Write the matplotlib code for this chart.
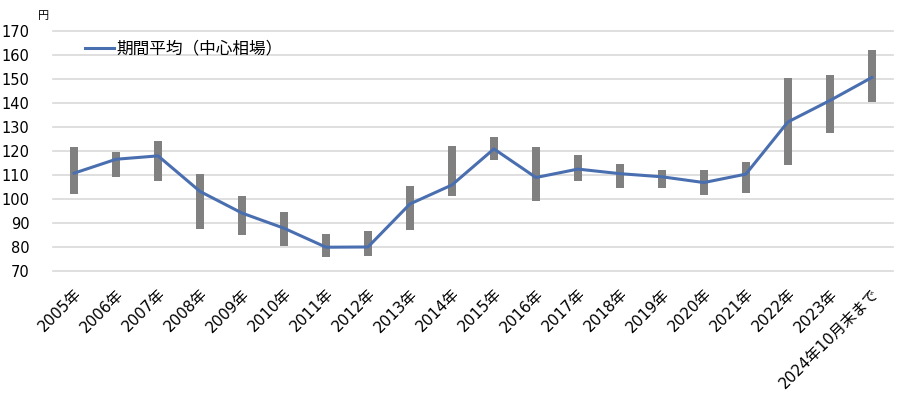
import matplotlib
matplotlib.use('Agg')
import matplotlib.pyplot as plt
import numpy as np

plt.rcParams['font.family'] = ['DejaVu Sans', 'Noto Sans CJK JP']

# 年ごとのレンジ（高値・安値）と期間平均
years = ['2005年', '2006年', '2007年', '2008年', '2009年', '2010年', '2011年',
         '2012年', '2013年', '2014年', '2015年', '2016年', '2017年', '2018年',
         '2019年', '2020年', '2021年', '2022年', '2023年', '2024年10月末まで']
highs = [121.4, 119.7, 124.0, 110.4, 101.1, 94.6, 85.3, 86.7, 105.4, 122.0,
         125.7, 121.4, 118.2, 114.4, 112.2, 112.1, 115.4, 150.3, 151.6, 162.0]
lows = [102.0, 109.2, 107.4, 87.4, 85.1, 80.3, 75.8, 76.3, 87.1, 101.0,
        116.0, 99.2, 107.6, 104.7, 104.6, 101.8, 102.6, 113.9, 127.3, 140.4]
avg = [110.7, 116.5, 117.9, 103.1, 94.1, 87.8, 79.9, 80.0, 97.9, 105.8,
       120.8, 108.9, 112.4, 110.5, 109.2, 106.8, 110.3, 132.0, 140.9, 150.5]

fig = plt.figure(figsize=(9, 4.03), dpi=100)
ax = fig.add_axes([0.059, 0.3275, 0.933, 0.5965])

x = np.arange(len(years))
# レンジ（灰色の棒）
ax.bar(x, np.array(highs) - np.array(lows), bottom=lows, width=0.18,
       color='#808080', zorder=2)
# 期間平均の折れ線
ax.plot(x, avg, color='#4A6FB0', linewidth=2.2, zorder=3,
        label='期間平均（中心相場）')

ax.set_xlim(-0.5, len(years) - 0.5)
ax.set_ylim(70, 170)
ax.set_yticks(range(70, 171, 10))
ax.grid(axis='y', color='#D9D9D9', linewidth=1.2, zorder=0)
ax.set_axisbelow(True)
for gl in ax.get_ygridlines():
    gl.set_clip_on(False)
for s in ax.spines.values():
    s.set_visible(False)
ax.tick_params(axis='both', length=0, colors='#000000')
ax.tick_params(axis='y', labelsize=10.5, pad=17)
ax.set_xticks(x)
ax.set_xticklabels(years, rotation=45, ha='right', rotation_mode='anchor',
                   fontsize=11)
ax.tick_params(axis='x', pad=11)

fig.text(0.048, 0.96, '円', fontsize=8, ha='center', va='center')

leg = ax.legend(loc='upper left', bbox_to_anchor=(0.02, 1.02), frameon=False,
                handlelength=1.75, handletextpad=0.15,
                prop={'family': ['Noto Sans CJK JP'], 'size': 12})

plt.savefig('out.png', dpi=100)
